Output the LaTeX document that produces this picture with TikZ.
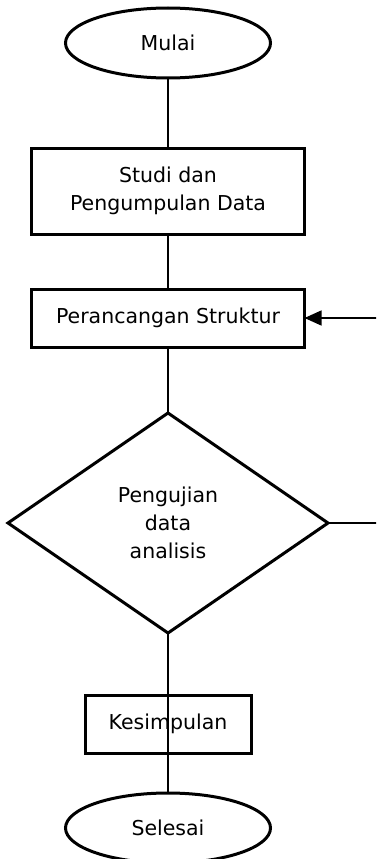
\documentclass[tikz,border=0pt]{standalone}
\usepackage{fontspec}
\setmainfont{DejaVu Sans}
\usetikzlibrary{shapes.geometric, arrows.meta, positioning}

\begin{document}
\begin{tikzpicture}[
    % Global Styles
    font=\fontsize{20.5}{28}\selectfont,
    % Node Styles
    terminal/.style={
        ellipse,
        draw=black,
        fill=white,
        line width=3pt,
        minimum width=205pt,
        minimum height=70pt,
        inner sep=0pt,
        outer sep=0pt
    },
    process/.style={
        rectangle,
        draw=black,
        fill=white,
        line width=3pt,
        align=center,
        minimum width=273pt,
        minimum height=58pt,
        inner sep=0pt,
        outer sep=0pt
    },
    decision/.style={
        diamond,
        draw=black,
        fill=white,
        line width=3pt,
        align=center,
        minimum width=320pt,
        minimum height=220pt,
        inner sep=0pt,
        outer sep=0pt
    },
    % Connector Styles
    line/.style={
        draw=black,
        line width=1.4pt
    },
    arrow/.style={
        -{Triangle[length=17pt, width=15pt]},
        draw=black,
        line width=1.4pt
    }
]

    % picture frame (the feedback loop runs past the right edge)
    \clip (0,0) rectangle (376pt,-859pt);

    % --- Nodes ---

    % 1. Start
    \node[terminal] (mulai) at (168pt,-43pt) {Mulai};

    % 2. Study and data collection
    \node[process, below=70pt of mulai, minimum height=86pt] (studi) {Studi dan\\Pengumpulan Data};

    % 3. Structure design
    \node[process, below=55pt of studi] (struktur) {Perancangan Struktur};

    % 4. Data testing / analysis
    \node[decision, below=66pt of struktur] (uji) {Pengujian\\data\\analisis};

    % 5. Conclusion
    \node[process, below=62pt of uji, minimum width=166pt] (kesimpulan) {Kesimpulan};

    % 6. End
    \node[terminal, below=40pt of kesimpulan] (selesai) {Selesai};

    % --- Edges ---

    \draw[line] (mulai) -- (studi);
    \draw[line] (studi) -- (struktur);
    \draw[line] (struktur) -- (uji);
    \draw[line] (uji.south) -- (selesai.north);

    % Feedback loop (Pengujian -> Perancangan)
    \draw[arrow] (uji.east) -- ++(60pt,0) |- (struktur.east);

\end{tikzpicture}
\end{document}
